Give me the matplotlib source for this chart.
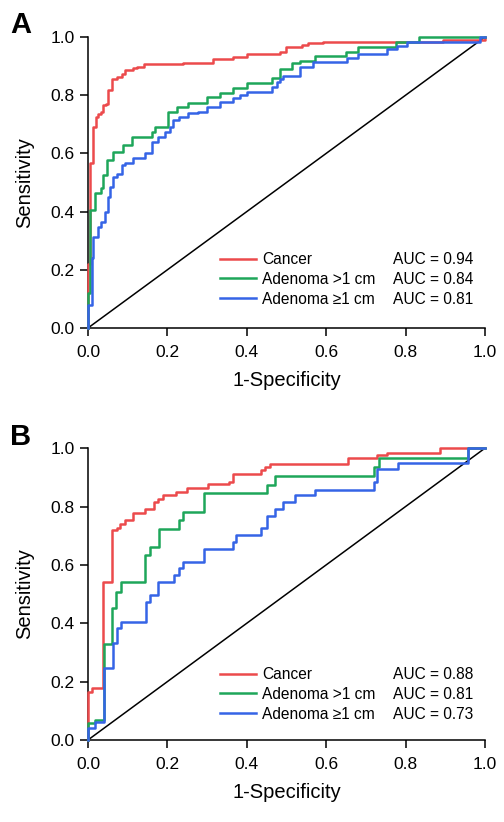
import matplotlib
matplotlib.use("Agg")
import matplotlib.pyplot as plt
from matplotlib.lines import Line2D

plt.rcParams['font.family'] = ['Liberation Sans', 'DejaVu Sans']

# ---- ROC data (jump points: at fpr[i] the curve rises to tpr[i]) ----
# Panel A
a_cancer_fpr = [0, 0, 0.005, 0.012, 0.02, 0.026, 0.034, 0.039, 0.045, 0.051, 0.06, 0.072, 0.085, 0.093,
                0.114, 0.123, 0.14, 0.24, 0.316, 0.366, 0.4, 0.484, 0.5, 0.538, 0.555, 0.593, 0.894, 1.0]
a_cancer_tpr = [0, 0.22, 0.566, 0.69, 0.726, 0.737, 0.743, 0.766, 0.77, 0.818, 0.855, 0.864, 0.873, 0.887,
                0.892, 0.898, 0.906, 0.912, 0.923, 0.932, 0.941, 0.95, 0.967, 0.973, 0.979, 0.984, 0.99, 1.0]
a_aden_gt_fpr = [0, 0, 0.005, 0.018, 0.034, 0.039, 0.047, 0.064, 0.089, 0.11, 0.16, 0.169, 0.202, 0.223,
                 0.253, 0.299, 0.332, 0.366, 0.4, 0.463, 0.484, 0.513, 0.533, 0.572, 0.65, 0.68, 0.776, 0.835, 1.0]
a_aden_gt_tpr = [0, 0.12, 0.405, 0.463, 0.48, 0.526, 0.577, 0.606, 0.629, 0.657, 0.675, 0.692, 0.743, 0.758,
                 0.772, 0.795, 0.809, 0.824, 0.841, 0.858, 0.889, 0.909, 0.919, 0.935, 0.95, 0.967, 0.984, 1.0, 1.0]
a_aden_ge_fpr = [0, 0, 0.009, 0.013, 0.026, 0.034, 0.043, 0.051, 0.055, 0.064, 0.072, 0.085, 0.093, 0.114,
                 0.144, 0.16, 0.177, 0.194, 0.207, 0.215, 0.228, 0.253, 0.278, 0.299, 0.332, 0.366, 0.383,
                 0.4, 0.463, 0.475, 0.484, 0.492, 0.534, 0.568, 0.652, 0.681, 0.753, 0.778, 0.803, 0.987, 1.0]
a_aden_ge_tpr = [0, 0.079, 0.24, 0.314, 0.348, 0.365, 0.4, 0.451, 0.486, 0.52, 0.53, 0.56, 0.566, 0.583,
                 0.6, 0.64, 0.657, 0.675, 0.692, 0.715, 0.724, 0.738, 0.743, 0.76, 0.778, 0.789, 0.8,
                 0.812, 0.829, 0.846, 0.855, 0.866, 0.898, 0.915, 0.927, 0.941, 0.958, 0.969, 0.984, 1.0, 1.0]
a_auc = ['0.94', '0.84', '0.81']

# Panel B
b_cancer_fpr = [0, 0, 0.009, 0.037, 0.061, 0.072, 0.081, 0.092, 0.114, 0.144, 0.165, 0.177, 0.188,
                0.222, 0.249, 0.303, 0.355, 0.366, 0.437, 0.446, 0.458, 0.656, 0.727, 0.752, 0.887, 1.0]
b_cancer_tpr = [0, 0.166, 0.177, 0.542, 0.719, 0.728, 0.74, 0.753, 0.778, 0.79, 0.816, 0.825, 0.838,
                0.849, 0.862, 0.876, 0.885, 0.913, 0.925, 0.936, 0.947, 0.965, 0.976, 0.984, 1.0, 1.0]
b_aden_gt_fpr = [0, 0, 0.018, 0.04, 0.061, 0.071, 0.082, 0.144, 0.156, 0.18, 0.228, 0.24, 0.292, 0.45,
                 0.471, 0.721, 0.734, 0.958, 1.0]
b_aden_gt_tpr = [0, 0.057, 0.068, 0.329, 0.451, 0.508, 0.542, 0.634, 0.662, 0.723, 0.753, 0.782, 0.847,
                 0.873, 0.904, 0.936, 0.965, 1.0, 1.0]
b_aden_ge_fpr = [0, 0, 0.018, 0.04, 0.064, 0.072, 0.082, 0.145, 0.156, 0.177, 0.217, 0.228, 0.24, 0.292,
                 0.366, 0.374, 0.437, 0.45, 0.471, 0.492, 0.521, 0.572, 0.72, 0.729, 0.782, 0.958, 1.0]
b_aden_ge_tpr = [0, 0.04, 0.063, 0.245, 0.333, 0.382, 0.405, 0.474, 0.497, 0.54, 0.565, 0.588, 0.611,
                 0.654, 0.679, 0.704, 0.727, 0.767, 0.79, 0.816, 0.839, 0.858, 0.885, 0.93, 0.95, 1.0, 1.0]
b_auc = ['0.88', '0.81', '0.73']

group_labels = ['Cancer', 'Adenoma >1 cm', 'Adenoma \u22651 cm']
colors = ['#ec4a4c', '#1ea65a', '#3564e6']
ticks = [0.0, 0.2, 0.4, 0.6, 0.8, 1.0]


def draw_panel(ax, curves, aucs, legend_top):
    handles = []
    for (fpr, tpr), c in zip(curves, colors):
        h, = ax.step(fpr, tpr, where='post', color=c, lw=1.8, clip_on=False, zorder=3)
        handles.append(h)
    ax.plot([0, 1], [0, 1], color='black', lw=1.1, zorder=2)

    ax.set_xlim(0, 1)
    ax.set_ylim(0, 1)
    ax.set_xticks(ticks)
    ax.set_yticks(ticks)
    ax.set_xticklabels([f'{t:.1f}' for t in ticks])
    ax.set_yticklabels([f'{t:.1f}' for t in ticks])
    for s in ['top', 'right']:
        ax.spines[s].set_visible(False)
    for s in ['left', 'bottom']:
        ax.spines[s].set_linewidth(1.1)
    ax.tick_params(axis='both', direction='out', length=6, width=1.1, labelsize=12.5)
    ax.tick_params(axis='x', pad=6)
    ax.tick_params(axis='y', pad=3.5)
    ax.set_xlabel('1-Specificity', fontsize=14.5, labelpad=8)
    ax.set_ylabel('Sensitivity', fontsize=14.5, labelpad=12)

    leg = ax.legend(handles, group_labels, loc='upper left', bbox_to_anchor=(0.332, legend_top),
                    frameon=False, fontsize=11.2, handlelength=2.3, handletextpad=0.4,
                    labelspacing=0.31, borderpad=0, borderaxespad=0)
    ax.add_artist(leg)
    blanks = [Line2D([], [], linestyle='none') for _ in aucs]
    ax.legend(blanks, [f'AUC = {a}' for a in aucs], loc='upper left', bbox_to_anchor=(0.768, legend_top),
              frameon=False, fontsize=11.2, handlelength=0, handletextpad=0,
              labelspacing=0.31, borderpad=0, borderaxespad=0)


fig = plt.figure(figsize=(5.04, 8.22), dpi=100)
ax_a = fig.add_axes([0.1746, 0.601, 0.7877, 0.354])
ax_b = fig.add_axes([0.1746, 0.0998, 0.7877, 0.355])

draw_panel(ax_a, [(a_cancer_fpr, a_cancer_tpr), (a_aden_gt_fpr, a_aden_gt_tpr),
                  (a_aden_ge_fpr, a_aden_ge_tpr)], a_auc, 0.261)
draw_panel(ax_b, [(b_cancer_fpr, b_cancer_tpr), (b_aden_gt_fpr, b_aden_gt_tpr),
                  (b_aden_ge_fpr, b_aden_ge_tpr)], b_auc, 0.25)

fig.text(10 / 504, 1 - 33 / 822, 'A', fontsize=21, fontweight='bold', ha='left', va='baseline')
fig.text(10 / 504, 1 - 445 / 822, 'B', fontsize=21, fontweight='bold', ha='left', va='baseline')

fig.savefig('out.png', dpi=100)
